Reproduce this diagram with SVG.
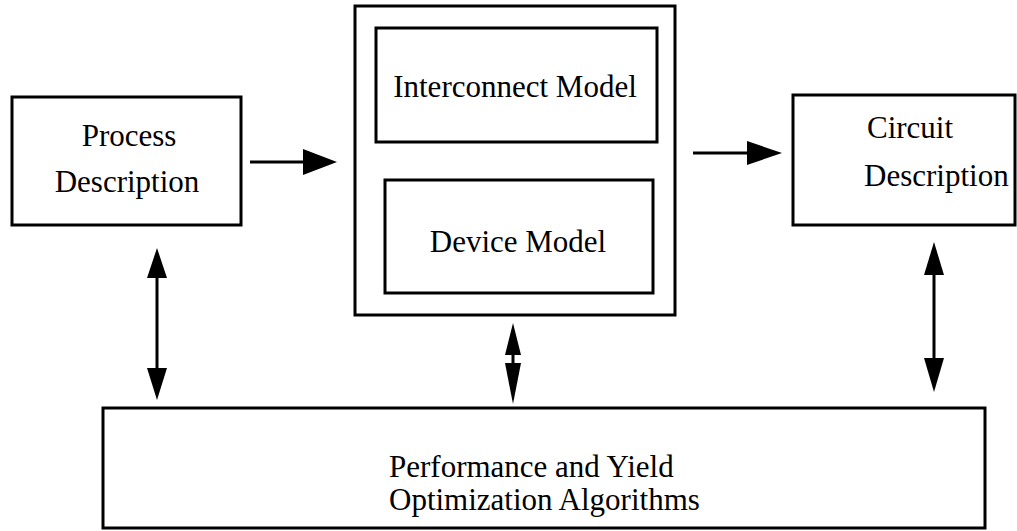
<svg xmlns="http://www.w3.org/2000/svg" width="1017" height="531" viewBox="0 0 1017 531">
<style>
.box{fill:none;stroke:#000;stroke-width:3}
.t{font-family:"Liberation Serif","Times New Roman",serif;font-size:31px;fill:#000}
.c{text-anchor:middle}
.ln{stroke:#000;stroke-width:3;fill:none}
.hd{fill:#000}
</style>
<rect width="1017" height="531" fill="#fff"/>
<g id="process">
<rect class="box" x="12" y="97" width="229" height="128"/>
<text class="t c" x="129" y="146" font-size="32">Process</text>
<text class="t c" x="127" y="192">Description</text>
</g>
<g id="models">
<rect class="box" x="355" y="6" width="320" height="309"/>
</g>
<g id="interconnect">
<rect class="box" x="376" y="28" width="281" height="114"/>
<text class="t c" x="515" y="97">Interconnect Model</text>
</g>
<g id="device">
<rect class="box" x="385" y="180" width="268" height="113"/>
<text class="t c" x="518" y="252" font-size="32">Device Model</text>
</g>
<g id="circuit">
<rect class="box" x="793" y="95" width="222" height="130"/>
<text class="t" x="867" y="138" font-size="30">Circuit</text>
<text class="t" x="864" y="186" font-size="29">Description</text>
</g>
<g id="optimization">
<rect class="box" x="103" y="408" width="882" height="120"/>
<text class="t" x="389" y="477" font-size="34">Performance and Yield</text>
<text class="t" x="389" y="510" font-size="34">Optimization Algorithms</text>
</g>
<g id="connectors">
<line class="ln" x1="250" y1="162" x2="305" y2="162"/>
<polygon class="hd" points="303,149 337,162 303,175"/>
<line class="ln" x1="693" y1="153" x2="750" y2="153"/>
<polygon class="hd" points="747,141 782,153 747,165"/>
<line class="ln" x1="157" y1="275" x2="157" y2="370"/>
<polygon class="hd" points="157,248 147,278 167,278"/>
<polygon class="hd" points="147,368 167,368 157,400"/>
<line class="ln" x1="513" y1="350" x2="513" y2="365"/>
<polygon class="hd" points="513,323 505,355 521,355"/>
<polygon class="hd" points="505,363 521,363 513,404"/>
<line class="ln" x1="934" y1="272" x2="934" y2="360"/>
<polygon class="hd" points="934,242 924,275 944,275"/>
<polygon class="hd" points="924,358 944,358 934,392"/>
</g>
</svg>
